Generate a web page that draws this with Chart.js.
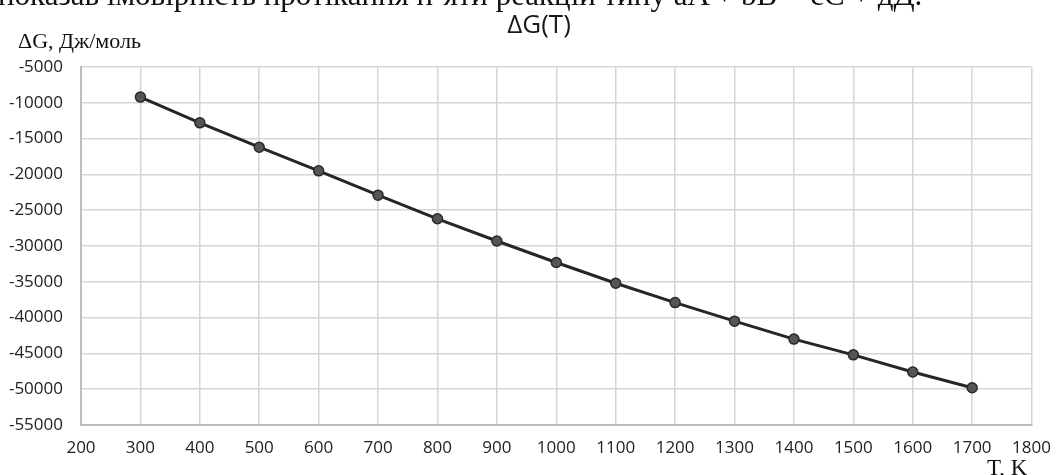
<!DOCTYPE html>
<html lang="uk">
<head>
  <meta charset="UTF-8" />
  <title>ΔG(T)</title>
  <script src="https://cdn.jsdelivr.net/npm/chart.js"></script>
  <style>
    body {
      margin: 0;
      background: #fff;
    }

    .wrap {
      position: relative;
      width: 1064px;
      height: 475px;
      overflow: hidden;
      background: #fff;
    }

    .wrap canvas {
      position: absolute;
      left: 0;
      top: 0;
    }

    .txt {
      position: absolute;
      white-space: nowrap;
      color: #111;
      line-height: 1;
    }

    .serif {
      font-family: 'Liberation Serif', 'DejaVu Serif', serif;
    }

    #topLine {
      left: -2px;
      top: -21px;
      font-size: 31px;
    }

    #title {
      left: 539px;
      top: 10px;
      transform: translateX(-50%);
      font-family: 'Open Sans', sans-serif;
      font-size: 26px;
      color: #1a1a1a;
    }

    #yTitle {
      left: 18px;
      top: 30px;
      font-size: 22px;
    }

    #xTitle {
      left: 987px;
      top: 456px;
      font-size: 23px;
    }
  </style>
</head>
<body>
  <div class="wrap">
    <canvas id="chart" width="1064" height="475"></canvas>
    <div class="txt serif" id="topLine">показав імовірність протікання п’яти реакцій типу aA + bB = cC + дД.</div>
    <div class="txt" id="title">ΔG(T)</div>
    <div class="txt serif" id="yTitle">ΔG, Дж/моль</div>
    <div class="txt serif" id="xTitle">T, K</div>
  </div>

  <script>
    // temperature, K
    const temps = [300, 400, 500, 600, 700, 800, 900, 1000, 1100, 1200, 1300, 1400, 1500, 1600, 1700];
    // Gibbs energy, J/mol
    const deltaG = [-9200, -12800, -16200, -19500, -22900, -26200, -29300, -32300, -35200, -37900, -40500, -43000, -45200, -47600, -49800];

    const xMin = 200, xMax = 1800, xStep = 100;
    const yMin = -55000, yMax = -5000, yStep = 5000;

    const tickFont = { family: "'Open Sans', sans-serif", size: 17 };
    const plain = v => String(v);

    new Chart(document.getElementById("chart"), {
      type: "line",
      data: {
        datasets: [{
          label: "ΔG(T)",
          data: temps.map((t, i) => ({ x: t, y: deltaG[i] })),
          borderColor: "#262626",
          borderWidth: 3,
          pointRadius: 5,
          pointBackgroundColor: "#555",
          pointBorderColor: "#2a2a2a",
          pointBorderWidth: 1.5,
          tension: 0,
          fill: false
        }]
      },
      options: {
        responsive: false,
        animation: false,
        layout: {
          padding: { top: 67, right: 24, bottom: 0, left: 0 }
        },
        plugins: {
          legend: { display: false },
          title: { display: false },
          tooltip: { enabled: false }
        },
        scales: {
          x: {
            type: "linear",
            min: xMin,
            max: xMax,
            afterFit: s => { s.height = 50; },
            ticks: {
              stepSize: xStep,
              padding: 13,
              color: "#222",
              font: tickFont,
              callback: plain
            },
            grid: {
              color: "#d6d6d6",
              lineWidth: 1.5,
              drawTicks: false
            },
            border: { color: "#bdbdbd", width: 2 }
          },
          y: {
            type: "linear",
            min: yMin,
            max: yMax,
            afterFit: s => { s.width = 81; },
            ticks: {
              stepSize: yStep,
              padding: 18,
              color: "#222",
              font: tickFont,
              callback: plain
            },
            grid: {
              color: "#d6d6d6",
              lineWidth: 1.5,
              drawTicks: false
            },
            border: { color: "#bdbdbd", width: 2 }
          }
        }
      }
    });
  </script>
</body>
</html>
